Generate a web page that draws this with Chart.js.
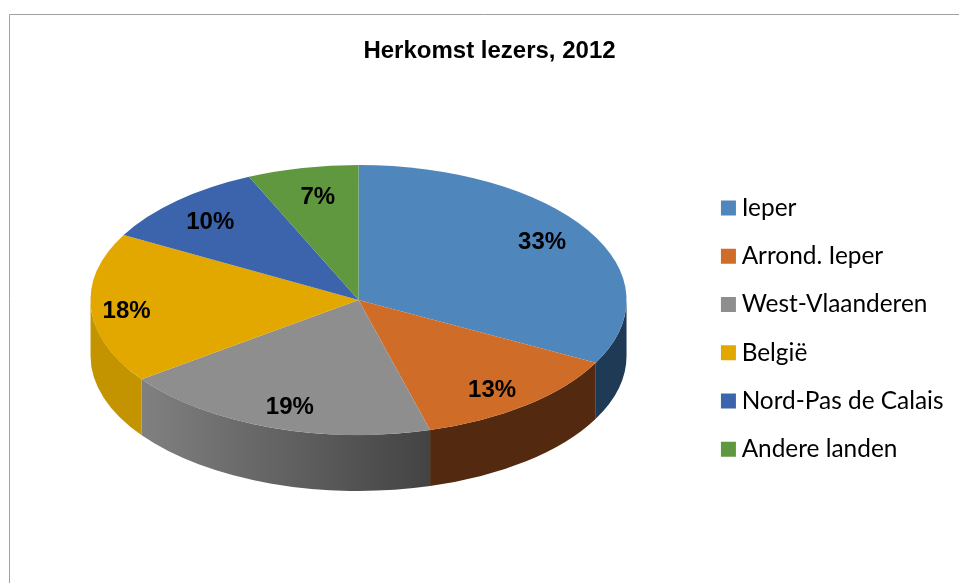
<!DOCTYPE html>
<html lang="nl">
<head>
<meta charset="utf-8">
<title>Herkomst lezers, 2012</title>
<style>
    html, body { margin: 0; padding: 0; background: #fff; }
    canvas { display: block; }
</style>
</head>
<body>
<canvas id="originChart" width="959" height="583"></canvas>
<script src="https://cdn.jsdelivr.net/npm/chart.js@4/dist/chart.umd.min.js"></script>
<script>
const categories = ['Ieper', 'Arrond. Ieper', 'West-Vlaanderen', 'België', 'Nord-Pas de Calais', 'Andere landen'];
// the labels show them rounded
const shares = [32.7, 13, 19.3, 18, 10.3, 6.7];

const topColors = ['#4F86BC', '#CF6C28', '#8E8E8E', '#E2A800', '#3C64AC', '#5F983F'];
const wallColors = [
    ['#1F3A55', '#1F3A55'],
    ['#532A10', '#532A10'],
    ['#434343', '#808080'],
    ['#C49300', '#C49300'],
    ['#1F3A55', '#1F3A55'],
    ['#3A5C26', '#3A5C26']
];
// percentages sit at 0.8 of the radius, then get nudged by hand [dx, dy]
const labelReach = 0.8;
const labelNudge = [[0, -2], [-1, 6], [2, 5], [-18, 5], [-3, 2], [4, 3]];

const squash = 135 / 268;
const depth = 56;
const pieShift = -6;

// Tilts the flat pie and adds the side wall and the percentages
const tiltPlugin = {
    id: 'tilt',
    beforeDraw(chart) {
        const ctx = chart.ctx;
        ctx.save();
        ctx.strokeStyle = '#a0a0a0';
        ctx.lineWidth = 1;
        ctx.beginPath();
        ctx.moveTo(9.5, 583);
        ctx.lineTo(9.5, 14.5);
        ctx.lineTo(959, 14.5);
        ctx.stroke();
        ctx.restore();
    },
    beforeDatasetsDraw(chart) {
        const ctx = chart.ctx;
        ctx.save();
        ctx.translate(pieShift, 0);
        chart.getDatasetMeta(0).data.forEach((arc, i) => {
            const from = Math.max(arc.startAngle, 0);
            const to = Math.min(arc.endAngle, Math.PI);
            if (to <= from) return;
            const rx = arc.outerRadius;
            const ry = rx * squash;
            const fill = ctx.createLinearGradient(arc.x + rx * Math.cos(from), 0, arc.x + rx * Math.cos(to), 0);
            fill.addColorStop(0, wallColors[i][0]);
            fill.addColorStop(1, wallColors[i][1]);
            ctx.fillStyle = fill;
            ctx.beginPath();
            ctx.ellipse(arc.x, arc.y, rx, ry, 0, from, to);
            ctx.ellipse(arc.x, arc.y + depth, rx, ry, 0, to, from, true);
            ctx.closePath();
            ctx.fill();
        });
        const first = chart.getDatasetMeta(0).data[0];
        ctx.save();
        ctx.translate(first.x, first.y);
        ctx.scale(1, squash);
        ctx.translate(-first.x, -first.y);
    },
    afterDatasetsDraw(chart) {
        const ctx = chart.ctx;
        ctx.restore();
        ctx.fillStyle = '#000';
        ctx.font = 'bold 24px "Liberation Sans"';
        ctx.textAlign = 'center';
        ctx.textBaseline = 'middle';
        chart.getDatasetMeta(0).data.forEach((arc, i) => {
            const mid = (arc.startAngle + arc.endAngle) / 2;
            const r = arc.outerRadius * labelReach;
            const x = arc.x + r * Math.cos(mid) + labelNudge[i][0];
            const y = arc.y + r * squash * Math.sin(mid) + labelNudge[i][1];
            ctx.fillText(Math.round(shares[i]) + '%', x, y);
        });
        ctx.restore();
    }
};

new Chart(document.getElementById('originChart'), {
    type: 'pie',
    data: {
        labels: categories,
        datasets: [{
            data: shares,
            backgroundColor: topColors,
            borderWidth: 0,
            clip: false
        }]
    },
    options: {
        responsive: false,
        animation: false,
        radius: 268,
        layout: { padding: { left: 25.5, right: 5.5, top: 0, bottom: 97.75 } },
        plugins: {
            title: {
                display: true,
                text: 'Herkomst lezers, 2012',
                color: '#000',
                font: { family: '"Liberation Sans"', size: 24, weight: 'bold' },
                padding: { top: 37, bottom: 48.95 }
            },
            legend: {
                position: 'right',
                align: 'end',
                labels: {
                    color: '#000',
                    font: { family: 'Lato', size: 24.4 },
                    boxWidth: 2,
                    boxHeight: 2,
                    padding: 23.85,
                    // thick outline makes a 15px square while keeping the label close to it
                    generateLabels(chart) {
                        return Chart.overrides.pie.plugins.legend.labels.generateLabels(chart).map(item => {
                            item.strokeStyle = item.fillStyle;
                            item.lineWidth = 13;
                            return item;
                        });
                    }
                }
            },
            tooltip: { enabled: false }
        }
    },
    plugins: [tiltPlugin]
});
</script>
</body>
</html>
